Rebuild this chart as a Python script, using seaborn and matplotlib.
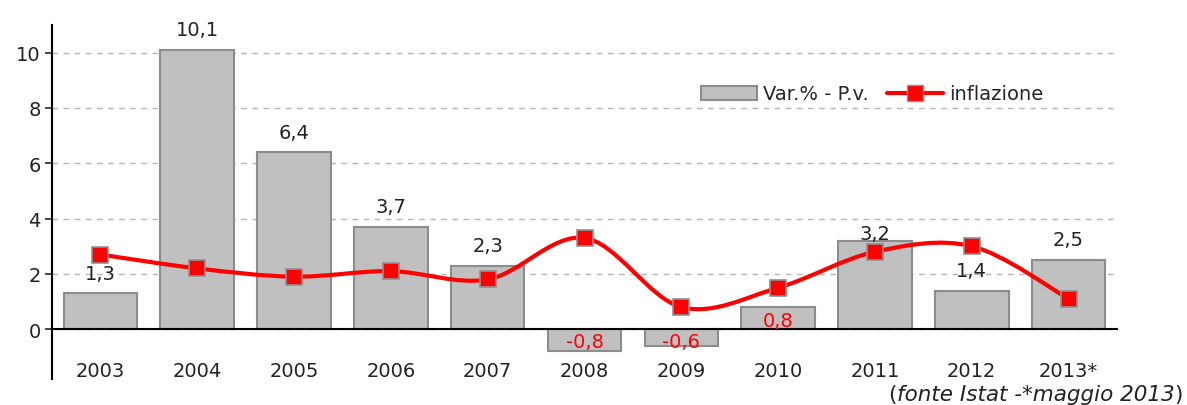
import numpy as np
import pandas as pd
import seaborn as sns
import matplotlib.pyplot as plt
from matplotlib.path import Path
from matplotlib.patches import PathPatch, Patch
from matplotlib.lines import Line2D
from matplotlib.ticker import FixedLocator
from matplotlib.offsetbox import TextArea, HPacker, AnchoredOffsetbox

# Data
years = ["2003", "2004", "2005", "2006", "2007", "2008", "2009", "2010", "2011", "2012", "2013*"]
var_pv = [1.3, 10.1, 6.4, 3.7, 2.3, -0.8, -0.6, 0.8, 3.2, 1.4, 2.5]
inflazione = [2.7, 2.2, 1.9, 2.1, 1.8, 3.3, 0.8, 1.5, 2.8, 3.0, 1.1]
red_labels = ["2008", "2009", "2010"]

df = pd.DataFrame({"anno": years, "var": var_pv, "infl": inflazione})

sns.set_style("white")
plt.rcParams["font.family"] = ["DejaVu Sans"]
FS = 14

fig = plt.figure(figsize=(11.87, 4.06), dpi=100)
ax = fig.add_axes([52 / 1187, 26 / 406, (1117 - 52) / 1187, (380 - 26) / 406])

# bars
sns.barplot(data=df, x="anno", y="var", order=years, color="#c0c0c0",
            edgecolor="#8c8c8c", linewidth=1.5, width=0.76, saturation=1, ax=ax, zorder=2)

# smooth inflation curve (Catmull-Rom -> Bezier, drawing only)
pts = np.column_stack([np.arange(len(inflazione)), inflazione]).astype(float)
verts = [pts[0]]
codes = [Path.MOVETO]
for i in range(len(pts) - 1):
    p0 = pts[i - 1] if i > 0 else pts[i]
    p1, p2 = pts[i], pts[i + 1]
    p3 = pts[i + 2] if i + 2 < len(pts) else pts[i + 1]
    verts += [p1 + (p2 - p0) / 6, p2 - (p3 - p1) / 6, p2]
    codes += [Path.CURVE4] * 3
ax.add_patch(PathPatch(Path(verts, codes), fill=False, edgecolor="red", lw=3, zorder=3))

# markers
sns.pointplot(data=df, x="anno", y="infl", order=years, color="red", marker="s",
              linestyle="none", markersize=11, markeredgecolor="#909090",
              markeredgewidth=1.2, ax=ax, zorder=4)

# value labels
for i, (yr, v) in enumerate(zip(years, var_pv)):
    txt = f"{v:.1f}".replace(".", ",")
    if yr in red_labels:
        ax.text(i, -0.45 if v < 0 else 0.3, txt, ha="center", va="center", color="red", fontsize=FS, zorder=5)
    elif yr == "2011":
        ax.text(i, v + 0.25, txt, ha="center", va="center", color="#222222", fontsize=FS, zorder=5)
    else:
        ax.text(i, v + 0.73, txt, ha="center", va="center", color="#222222", fontsize=FS, zorder=5)

ax.set_xlim(-0.5, len(years) - 0.5)
ax.set_ylim(-1.8, 11)
ax.set_yticks([0, 2, 4, 6, 8, 10])
ax.yaxis.grid(True, color="#b4b4b4", linestyle=(0, (4, 4)), lw=1)
ax.set_axisbelow(True)
ax.set_xlabel("")
ax.set_ylabel("")

for s in ["top", "right"]:
    ax.spines[s].set_visible(False)
ax.spines["left"].set_color("black")
ax.spines["left"].set_linewidth(1.5)
ax.spines["bottom"].set_position(("data", 0))
ax.spines["bottom"].set_color("black")
ax.spines["bottom"].set_linewidth(1.5)

ax.tick_params(axis="x", which="major", length=0, pad=23, labelsize=FS, labelcolor="#222222")
ax.xaxis.set_minor_locator(FixedLocator(np.arange(0.5, len(years), 1.0)))
ax.tick_params(axis="x", which="minor", length=6, width=1.5, direction="out", color="black")
ax.tick_params(axis="y", length=5, width=1.2, direction="out", left=True, labelsize=FS,
               labelcolor="#222222", pad=3)

# legend
handles = [Patch(facecolor="#c0c0c0", edgecolor="#8c8c8c", lw=1.5),
           Line2D([0], [0], color="red", lw=3, marker="s", markersize=11,
                  markerfacecolor="red", markeredgecolor="#909090")]
ax.legend(handles, ["Var.% - P.v.", "inflazione"], ncol=2, frameon=False, fontsize=FS,
          loc="center", bbox_to_anchor=(872 / 1187, 1 - 95 / 406), bbox_transform=fig.transFigure,
          handlelength=2.9, handleheight=0.7, handletextpad=0.3, columnspacing=0.9)

# source note
note_fs = 15.5
note = HPacker(children=[TextArea("(", textprops=dict(fontsize=note_fs, color="#222222")),
                         TextArea("fonte Istat -*maggio 2013", textprops=dict(fontsize=note_fs, style="italic", color="#222222")),
                         TextArea(")", textprops=dict(fontsize=note_fs, color="#222222"))],
               sep=0, pad=0, align="baseline")
box = AnchoredOffsetbox(loc="center right", child=note, frameon=False, pad=0, borderpad=0,
                        bbox_to_anchor=(1183 / 1187, 1 - 395 / 406), bbox_transform=fig.transFigure)
fig.add_artist(box)

fig.savefig("out.png", dpi=100)
